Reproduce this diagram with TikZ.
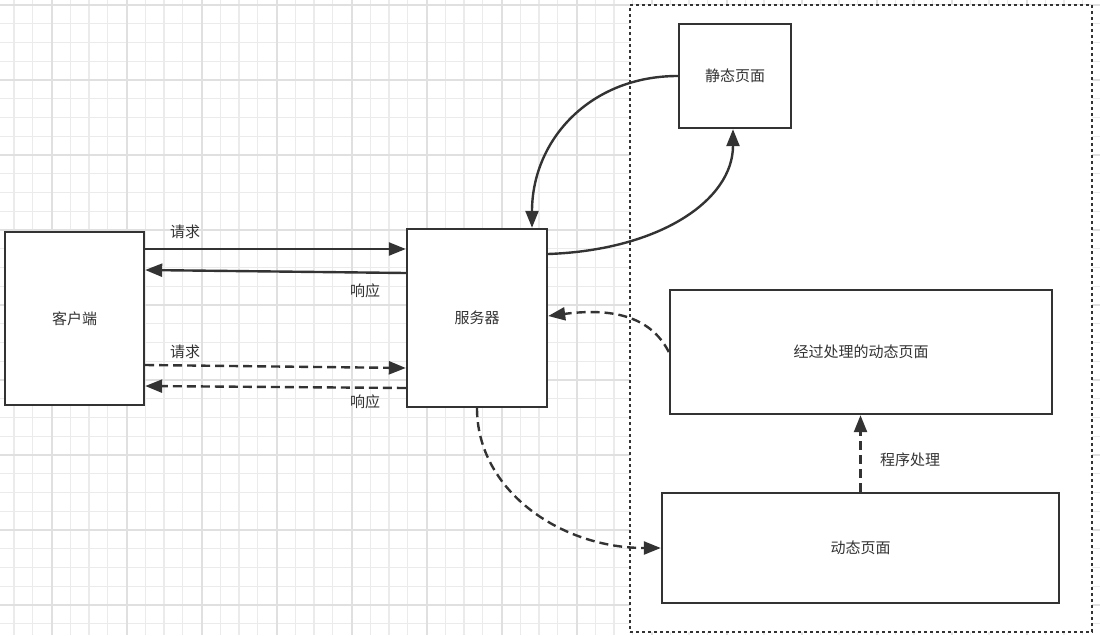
\documentclass[tikz,border=0pt]{standalone}
\usepackage{fontspec}
\setmainfont{Noto Sans CJK SC}
\usetikzlibrary{arrows.meta}
\definecolor{ink}{HTML}{333333}
\definecolor{gridminor}{HTML}{EBEBEB}
\definecolor{gridmajor}{HTML}{E0E0E0}
\tikzset{
  box/.style={draw=ink, line width=2.4pt, fill=white, inner sep=0pt, font=\fontsize{15pt}{17pt}\selectfont, text=ink},
  lbl/.style={font=\fontsize{15pt}{17pt}\selectfont, text=ink, inner sep=0pt},
  conn/.style={draw=ink, line width=2.4pt, -{Triangle[length=17pt,width=13pt]}},
  dconn/.style={conn, dash pattern=on 9pt off 5pt},
}
\begin{document}
\begin{tikzpicture}[x=1pt,y=-1pt]
\useasboundingbox (0,0) rectangle (1100,635);
\fill[white] (0,0) rectangle (1100,635);
% grid
\foreach \i in {0,...,59} {
  \draw[gridminor, line width=1.2pt] ({14+18.75*(\i-1)},0) -- ({14+18.75*(\i-1)},635);
}
\foreach \i in {0,...,34} {
  \draw[gridminor, line width=1.2pt] (0,{5+18.75*(\i)}) -- (1100,{5+18.75*(\i)});
}
\foreach \i in {0,...,15} {
  \draw[gridmajor, line width=1.2pt] ({52+75*(\i-1)},0) -- ({52+75*(\i-1)},635);
}
\foreach \i in {0,...,8} {
  \draw[gridmajor, line width=1.2pt] (0,{5+75*\i}) -- (1100,{5+75*\i});
}
% container
\node[draw=ink, fill=white, line width=2.6pt, dash pattern=on 2.6pt off 3.4pt, minimum width=462pt, minimum height=627pt, inner sep=0pt] (container) at (861,318.5) {};
% boxes
\node[box, minimum width=139pt, minimum height=173pt] (client) at (74.5,318.5) {客户端};
\node[box, minimum width=140pt, minimum height=178pt] (server) at (477,318) {服务器};
\node[box, minimum width=112pt, minimum height=104pt] (static) at (735,76) {静态页面};
\node[box, minimum width=382pt, minimum height=124pt] (proc) at (861,352) {经过处理的动态页面};
\node[box, minimum width=397pt, minimum height=110pt] (dyn) at (860.5,548) {动态页面};
% labels
\node[lbl] (req1) at (185,232) {请求};
\node[lbl] (res1) at (365,291) {响应};
\node[lbl] (req2) at (185,352) {请求};
\node[lbl] (res2) at (365,402) {响应};
\node[lbl] (prog) at (910,460) {程序处理};
% connectors
\draw[conn] ([yshift=69.5pt]client.east) -- ([yshift=69pt]server.west);
\draw[conn] ([yshift=45pt]server.west) -- ([yshift=48.5pt]client.east);
\draw[dconn] ([yshift=-46.5pt]client.east) -- ([yshift=-50pt]server.west);
\draw[dconn] ([yshift=-70pt]server.west) -- ([yshift=-67.5pt]client.east);
\draw[conn] (static.west) .. controls (590,76) and (532,140) .. ([xshift=55pt]server.north);
\draw[conn] ([yshift=64pt]server.east) .. controls (660,250) and (733,200) .. ([xshift=-2pt]static.south);
\draw[dconn] (proc.west) .. controls (650,315) and (610,308) .. ([yshift=2pt]server.east);
\draw[dconn] (server.south) .. controls (477,490) and (560,548) .. (dyn.west);
\draw[dconn] (dyn.north) -- (dyn.north |- proc.south);
\end{tikzpicture}
\end{document}
